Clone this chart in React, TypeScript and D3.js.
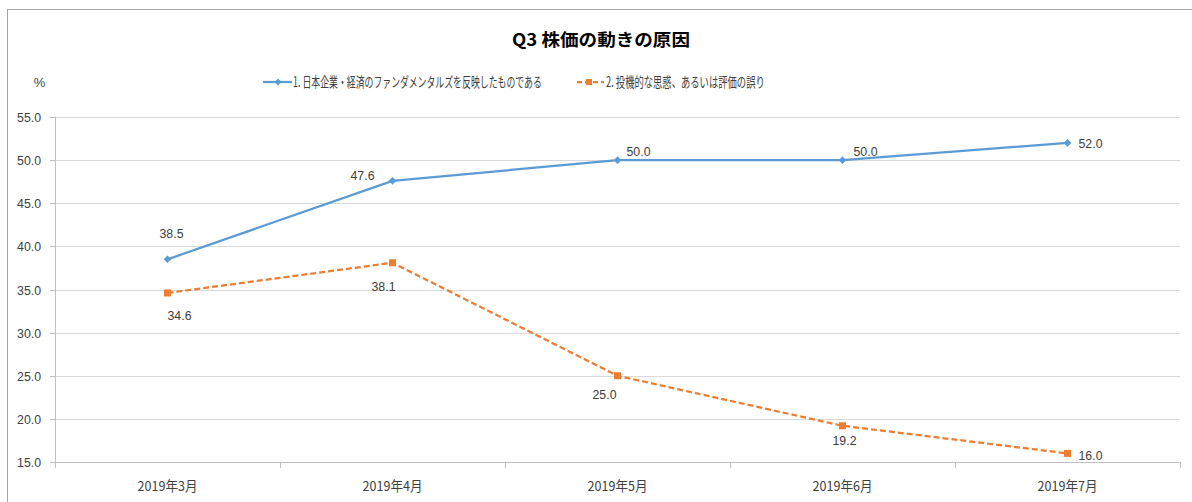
import React, { useLayoutEffect, useRef, useState } from "react";
import * as d3 from "d3";

const categories = ["2019年3月", "2019年4月", "2019年5月", "2019年6月", "2019年7月"];
const series1Name = "1. 日本企業・経済のファンダメンタルズを反映したものである";
const series2Name = "2. 投機的な思惑、あるいは評価の誤り";
const series1Values = [38.5, 47.6, 50.0, 50.0, 52.0];
const series2Values = [34.6, 38.1, 25.0, 19.2, 16.0];
const yTicks = [15, 20, 25, 30, 35, 40, 45, 50, 55];
const title = "Q3  株価の動きの原因";
const unitLabel = "%";

// label placement offsets (dx, dy) relative to each point
const labelOffsets1: [number, number][] = [[4, -26], [-30, -6], [21, -9], [23, -9], [23, 0]];
const labelOffsets2: [number, number][] = [[12, 22], [-9, 23], [-13, 18], [2, 14], [23, 2]];

const W = 1192;
const H = 502;
const plotLeft = 55;
const plotRight = 1180;
const plotTop = 117;
const plotBottom = 462;

const BLUE = "#5b9bd5";
const ORANGE = "#ed7d31";
const TEXT = "#404040";
const NUMFONT = "'Liberation Sans', Arial, sans-serif";
const CJKFONT = "'Noto Sans CJK JP', 'Liberation Sans', sans-serif";

type FitProps = {
  x: number;
  y: number;
  width: number;
  anchor?: "start" | "middle" | "end";
  fontFamily: string;
  fontSize: number;
  fontWeight?: string;
  fill?: string;
  children: string;
};

function FitText({ x, y, width, anchor = "start", fontFamily, fontSize, fontWeight, fill = TEXT, children }: FitProps) {
  const ref = useRef<SVGTextElement>(null);
  const [s, setS] = useState(1);
  useLayoutEffect(() => {
    if (ref.current) {
      const l = ref.current.getComputedTextLength();
      if (l > 0) setS(width / l);
    }
  }, [children, width]);
  return (
    <text
      ref={ref}
      transform={`translate(${x},${y}) scale(${s},1)`}
      textAnchor={anchor}
      fontFamily={fontFamily}
      fontSize={fontSize}
      fontWeight={fontWeight}
      fill={fill}
    >
      {children}
    </text>
  );
}

export default function App() {
  const x = d3.scaleBand<string>().domain(categories).range([plotLeft, plotRight]).padding(0);
  const y = d3.scaleLinear().domain([15, 55]).range([plotBottom, plotTop]);
  const cx = (c: string) => (x(c) as number) + x.bandwidth() / 2;

  const line = d3
    .line<number>()
    .x((_, i) => cx(categories[i]))
    .y((d) => y(d));

  const boundaries = d3.range(categories.length + 1).map((i) => plotLeft + i * x.bandwidth());
  const fmt = d3.format(".1f");

  const diamond = (px: number, py: number, r: number) =>
    `M${px},${py - r}L${px + r},${py}L${px},${py + r}L${px - r},${py}Z`;

  return (
    <svg width={W} height={H} style={{ position: "absolute", left: 0, top: 0, background: "#fff" }}>
      <rect x={0} y={0} width={W} height={H} fill="#fff" />
      <rect x={7.5} y={9.5} width={1300} height={700} fill="none" stroke="#a6a6a6" strokeWidth={1} />

      {/* title */}
      <FitText x={601} y={46} width={178} anchor="middle" fontFamily={CJKFONT} fontWeight="bold" fontSize={17.5} fill="#000">
        {title}
      </FitText>

      {/* unit */}
      <text x={39.5} y={87} textAnchor="middle" fontFamily={NUMFONT} fontSize={13} fill={TEXT}>
        {unitLabel}
      </text>

      {/* legend */}
      <g>
        <line x1={263} x2={292} y1={82} y2={82} stroke={BLUE} strokeWidth={2.25} />
        <path d={diamond(278, 82, 3.5)} fill={BLUE} />
        <FitText x={293} y={87} width={249} fontFamily={CJKFONT} fontSize={14}>
          {series1Name}
        </FitText>
        <line x1={577} x2={604} y1={82} y2={82} stroke={ORANGE} strokeWidth={2.25} strokeDasharray="5,3" />
        <rect x={586} y={79} width={6} height={6} fill={ORANGE} />
        <FitText x={606} y={87} width={159} fontFamily={CJKFONT} fontSize={14}>
          {series2Name}
        </FitText>
      </g>

      {/* gridlines */}
      {yTicks.map((t) => (
        <line
          key={`g${t}`}
          x1={plotLeft}
          x2={plotRight}
          y1={Math.round(y(t)) + 0.5}
          y2={Math.round(y(t)) + 0.5}
          stroke={t === 15 ? "#bfbfbf" : "#d9d9d9"}
          strokeWidth={1}
        />
      ))}

      {/* y axis */}
      <line x1={plotLeft + 0.5} x2={plotLeft + 0.5} y1={plotTop} y2={plotBottom + 6} stroke="#bfbfbf" />
      {yTicks.map((t) => (
        <g key={`yt${t}`}>
          <line x1={plotLeft - 5} x2={plotLeft} y1={Math.round(y(t)) + 0.5} y2={Math.round(y(t)) + 0.5} stroke="#bfbfbf" />
          <FitText x={41} y={y(t) + 5} width={24} anchor="end" fontFamily={NUMFONT} fontSize={13.5}>
            {fmt(t)}
          </FitText>
        </g>
      ))}

      {/* x ticks */}
      {boundaries.map((b, i) => (
        <line
          key={`xt${i}`}
          x1={Math.round(b) + 0.5}
          x2={Math.round(b) + 0.5}
          y1={plotBottom}
          y2={plotBottom + 6}
          stroke="#bfbfbf"
        />
      ))}
      {categories.map((c) => (
        <FitText key={`xl${c}`} x={cx(c)} y={491} width={60} anchor="middle" fontFamily={CJKFONT} fontSize={13.5}>
          {c}
        </FitText>
      ))}

      {/* series 1 */}
      <path d={line(series1Values) || ""} fill="none" stroke={BLUE} strokeWidth={2.25} strokeLinejoin="round" />
      {series1Values.map((v, i) => (
        <path key={`m1${i}`} d={diamond(cx(categories[i]), y(v), 3.8)} fill={BLUE} />
      ))}
      {series1Values.map((v, i) => (
        <FitText
          key={`l1${i}`}
          x={cx(categories[i]) + labelOffsets1[i][0]}
          y={y(v) + labelOffsets1[i][1] + 5}
          width={24}
          anchor="middle"
          fontFamily={NUMFONT}
          fontSize={13.5}
        >
          {fmt(v)}
        </FitText>
      ))}

      {/* series 2 */}
      <path d={line(series2Values) || ""} fill="none" stroke={ORANGE} strokeWidth={2.25} strokeDasharray="6,3" />
      {series2Values.map((v, i) => (
        <rect key={`m2${i}`} x={cx(categories[i]) - 3.5} y={y(v) - 3.5} width={7} height={7} fill={ORANGE} />
      ))}
      {series2Values.map((v, i) => (
        <FitText
          key={`l2${i}`}
          x={cx(categories[i]) + labelOffsets2[i][0]}
          y={y(v) + labelOffsets2[i][1] + 5}
          width={24}
          anchor="middle"
          fontFamily={NUMFONT}
          fontSize={13.5}
        >
          {fmt(v)}
        </FitText>
      ))}
    </svg>
  );
}
